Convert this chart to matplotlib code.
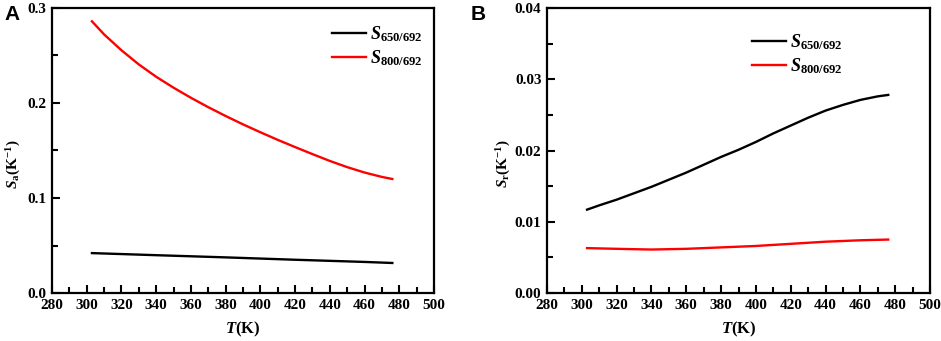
import matplotlib
matplotlib.use("Agg")
import matplotlib.pyplot as plt
from matplotlib.ticker import MultipleLocator, FormatStrFormatter

plt.rcParams['font.family'] = ['Liberation Serif', 'DejaVu Serif']
plt.rcParams['font.weight'] = 'bold'
plt.rcParams['axes.labelweight'] = 'bold'
plt.rcParams['mathtext.fontset'] = 'custom'
plt.rcParams['mathtext.rm'] = 'Liberation Serif:bold'
plt.rcParams['mathtext.it'] = 'Liberation Serif:italic:bold'
plt.rcParams['mathtext.bf'] = 'Liberation Serif:bold'

# Panel A data
T_a_red = [303, 310, 320, 330, 340, 350, 360, 370, 380, 390, 400, 410, 420, 430, 440, 450, 460, 470, 476]
Sa_800 = [0.286, 0.2722, 0.2555, 0.2406, 0.2276, 0.2161, 0.2055, 0.1956, 0.1863, 0.1775, 0.1692,
          0.1612, 0.1536, 0.1462, 0.1390, 0.1325, 0.1268, 0.1222, 0.1200]
T_a_black = [303, 340, 380, 420, 460, 476]
Sa_650 = [0.042, 0.0398, 0.0375, 0.0350, 0.0327, 0.0316]

# Panel B data
T_b_black = [303, 310, 320, 330, 340, 350, 360, 370, 380, 390, 400, 410, 420, 430, 440, 450, 460, 470, 476]
Sr_650 = [0.0117, 0.0123, 0.0131, 0.0140, 0.0149, 0.0159, 0.0169, 0.0180, 0.0191, 0.0201, 0.0212,
          0.0224, 0.0235, 0.0246, 0.0256, 0.0264, 0.0271, 0.0276, 0.0278]
T_b_red = [303, 320, 340, 360, 380, 400, 420, 440, 460, 476]
Sr_800 = [0.0063, 0.0062, 0.0061, 0.0062, 0.0064, 0.0066, 0.0069, 0.0072, 0.0074, 0.0075]

lab650 = r'$S_{650/692}$'
lab800 = r'$S_{800/692}$'

fig = plt.figure(figsize=(9.41, 3.41), dpi=100)
axA = fig.add_axes([52/941, 1-293/341, (434-52)/941, (293-8)/341])
axB = fig.add_axes([547/941, 1-293/341, (930-547)/941, (293-8)/341])

def style(ax, ymax, ymaj, ymin, fmt):
    ax.set_xlim(280, 500)
    ax.set_ylim(0, ymax)
    ax.xaxis.set_major_locator(MultipleLocator(20))
    ax.xaxis.set_minor_locator(MultipleLocator(10))
    ax.yaxis.set_major_locator(MultipleLocator(ymaj))
    ax.yaxis.set_minor_locator(MultipleLocator(ymin))
    ax.tick_params(which='both', direction='in', top=False, right=False, width=1.5)
    ax.tick_params(which='major', length=6, labelsize=11, pad=4)
    ax.tick_params(which='minor', length=4)
    ax.yaxis.set_major_formatter(FormatStrFormatter(fmt))
    for s in ax.spines.values():
        s.set_linewidth(1.6)
    ax.set_xlabel(r'$T$(K)', fontsize=12, labelpad=6)

axA.plot(T_a_black, Sa_650, color='black', lw=1.7, label=lab650)
axA.plot(T_a_red, Sa_800, color='red', lw=1.7, label=lab800)
style(axA, 0.3, 0.1, 0.05, '%.1f')
axA.set_ylabel(r'$S_{\mathrm{a}}$(K$^{-1}$)', fontsize=11)
axA.yaxis.set_label_coords((23-52)/382, 0.453)

axB.plot(T_b_black, Sr_650, color='black', lw=1.7, label=lab650)
axB.plot(T_b_red, Sr_800, color='red', lw=1.7, label=lab800)
style(axB, 0.04, 0.01, 0.005, '%.2f')
axB.set_ylabel(r'$S_{\mathrm{r}}$(K$^{-1}$)', fontsize=11)
axB.yaxis.set_label_coords((513-547)/383, 0.453)

for ax, x0, y0 in [(axA, (332-52)/382, 1-(24-8)/285), (axB, (752-547)/383, 1-(32-8)/285)]:
    ax.legend(loc='upper left', bbox_to_anchor=(x0, y0), frameon=False, fontsize=13,
              handlelength=1.9, handletextpad=0.2, borderpad=0, borderaxespad=0,
              labelspacing=0.25)

fig.text(12/941, 1-14/341, 'A', fontsize=15, fontweight='bold', family='Liberation Sans',
         ha='center', va='center')
fig.text(478/941, 1-14/341, 'B', fontsize=15, fontweight='bold', family='Liberation Sans',
         ha='center', va='center')

fig.savefig('out.png', dpi=100)
